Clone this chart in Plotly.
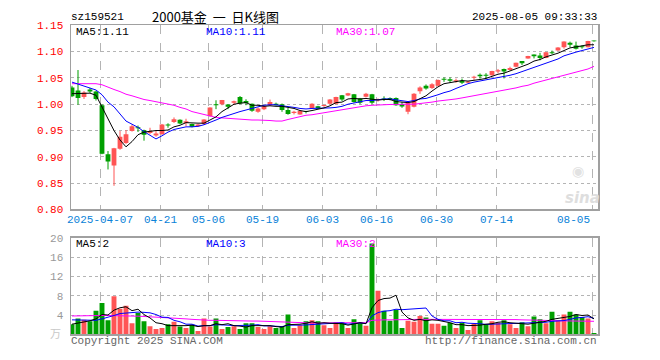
import plotly.graph_objects as go

# ---------------- data ----------------
dates = ["03-28", "03-31", "04-01", "04-02", "04-03", "04-07", "04-08", "04-09", "04-10", "04-11",
         "04-14", "04-15", "04-16", "04-17", "04-18", "04-21", "04-22", "04-23", "04-24", "04-25",
         "04-28", "04-29", "04-30", "05-06", "05-07", "05-08", "05-09", "05-12", "05-13", "05-14",
         "05-15", "05-16", "05-19", "05-20", "05-21", "05-22", "05-23", "05-26", "05-27", "05-28",
         "05-29", "05-30", "06-03", "06-04", "06-05", "06-06", "06-09", "06-10", "06-11", "06-12",
         "06-13", "06-16", "06-17", "06-18", "06-19", "06-20", "06-23", "06-24", "06-25", "06-26",
         "06-27", "06-30", "07-01", "07-02", "07-03", "07-04", "07-07", "07-08", "07-09", "07-10",
         "07-11", "07-14", "07-15", "07-16", "07-17", "07-18", "07-21", "07-22", "07-23", "07-24",
         "07-25", "07-28", "07-29", "07-30", "07-31", "08-01", "08-04", "08-05"]

open_ = [1.032, 1.026, 1.0135, 1.028, 1.024, 0.998, 0.905, 0.8835, 0.9155, 0.9265,
         0.9491, 0.956, 0.9503, 0.9454, 0.9405, 0.943, 0.9607, 0.9663, 0.9706, 0.9644,
         0.9626, 0.958, 0.9625, 0.9775, 0.9994, 1.000, 0.9994, 1.003, 1.0138, 1.006,
         1.001, 0.9856, 0.9906, 0.998, 1.001, 1.000, 0.989, 0.9831, 0.9806, 0.9856,
         0.992, 0.996, 0.9965, 1.001, 1.001, 1.017, 1.0167, 1.019, 1.011, 1.014,
         1.019, 1.0074, 1.0105, 1.0117, 1.0117, 1.000, 0.9858, 0.995, 1.0247, 1.035,
         1.031, 1.035, 1.0475, 1.0475, 1.043, 1.0445, 1.041, 1.0505, 1.056, 1.056,
         1.055, 1.062, 1.067, 1.065, 1.071, 1.082, 1.087, 1.0945, 1.0927, 1.088,
         1.099, 1.102, 1.1085, 1.117, 1.1116, 1.110, 1.1085, 1.1205]
high = [1.035, 1.065, 1.025, 1.031, 1.025, 1.000, 0.911, 0.917, 0.949, 0.951,
        0.9614, 0.9595, 0.9516, 0.9553, 0.9491, 0.9625, 0.9638, 0.9749, 0.9712, 0.9724,
        0.963, 0.9625, 0.9715, 0.994, 1.0075, 1.0081, 1.000, 1.0069, 1.0156, 1.0094,
        1.0013, 0.9938, 0.998, 1.0088, 1.003, 1.0013, 0.9931, 0.9875, 0.988, 0.9875,
        1.0019, 0.997, 0.999, 1.0098, 1.0142, 1.0176, 1.0216, 1.0195, 1.012, 1.0216,
        1.0197, 1.011, 1.015, 1.013, 1.013, 1.0043, 1.0035, 1.021, 1.034, 1.0376,
        1.040, 1.047, 1.051, 1.051, 1.0487, 1.0487, 1.044, 1.054, 1.0585, 1.059,
        1.0635, 1.067, 1.0677, 1.0713, 1.079, 1.082, 1.092, 1.0945, 1.0976, 1.099,
        1.102, 1.1085, 1.1195, 1.119, 1.119, 1.1116, 1.1205, 1.121]
low = [1.0135, 0.999, 1.010, 1.0215, 1.007, 0.905, 0.876, 0.845, 0.9135, 0.9245,
       0.948, 0.9473, 0.9307, 0.943, 0.9381, 0.942, 0.9553, 0.9644, 0.962, 0.9583,
       0.956, 0.957, 0.9606, 0.976, 0.9906, 0.998, 0.9906, 0.9988, 1.000, 0.9981,
       0.9856, 0.9838, 0.9888, 0.9969, 0.9975, 0.9856, 0.980, 0.9806, 0.980, 0.9825,
       0.991, 0.991, 0.995, 1.000, 1.000, 1.0062, 1.0155, 1.003, 1.000, 1.0129,
       1.000, 1.005, 1.006, 1.0074, 0.997, 0.9932, 0.981, 0.994, 1.0197, 1.0277,
       1.029, 1.034, 1.0425, 1.0413, 1.0408, 1.0384, 1.040, 1.0463, 1.0488, 1.0488,
       1.054, 1.059, 1.049, 1.064, 1.070, 1.0745, 1.0865, 1.087, 1.0835, 1.0875,
       1.0952, 1.1015, 1.1055, 1.108, 1.104, 1.1055, 1.108, 1.119]
close = [1.015, 1.012, 1.0225, 1.024, 1.010, 0.906, 0.891, 0.9165, 0.938, 0.943,
         0.9583, 0.9545, 0.9418, 0.9491, 0.9442, 0.9614, 0.9595, 0.9712, 0.9632, 0.9675,
         0.9571, 0.9615, 0.971, 0.9938, 0.9981, 1.008, 0.995, 1.0056, 1.0013, 1.0025,
         0.9875, 0.992, 0.996, 1.0044, 0.998, 0.989, 0.9813, 0.9856, 0.987, 0.985,
         1.001, 0.992, 0.9975, 1.009, 1.0136, 1.009, 1.021, 1.004, 1.003, 1.0197,
         1.003, 1.008, 1.009, 1.0086, 0.998, 0.9957, 1.003, 1.0197, 1.032, 1.030,
         1.038, 1.046, 1.0465, 1.0444, 1.0457, 1.041, 1.043, 1.052, 1.053, 1.054,
         1.063, 1.0646, 1.062, 1.069, 1.0787, 1.078, 1.0915, 1.091, 1.088, 1.0988,
         1.097, 1.108, 1.119, 1.113, 1.1055, 1.1085, 1.120, 1.1195]

ma5 = [1.020, 1.020, 1.020, 1.021, 1.017, 0.995, 0.971, 0.950, 0.932, 0.919,
       0.929, 0.942, 0.947, 0.949, 0.950, 0.950, 0.951, 0.957, 0.960, 0.965,
       0.964, 0.964, 0.964, 0.970, 0.976, 0.986, 0.993, 1.000, 1.002, 1.003,
       0.998, 0.998, 0.996, 0.997, 0.996, 0.996, 0.994, 0.992, 0.988, 0.986,
       0.988, 0.990, 0.993, 0.997, 1.003, 1.004, 1.010, 1.011, 1.010, 1.011,
       1.010, 1.008, 1.009, 1.009, 1.005, 1.004, 1.003, 1.005, 1.010, 1.016,
       1.025, 1.033, 1.039, 1.041, 1.044, 1.045, 1.044, 1.045, 1.047, 1.049,
       1.053, 1.057, 1.059, 1.063, 1.068, 1.071, 1.076, 1.082, 1.085, 1.090,
       1.093, 1.097, 1.102, 1.107, 1.109, 1.111, 1.113, 1.113]
ma10 = [1.042, 1.038, 1.035, 1.031, 1.027, 1.018, 1.004, 0.995, 0.982, 0.968,
        0.962, 0.956, 0.948, 0.941, 0.934, 0.940, 0.947, 0.952, 0.955, 0.957,
        0.957, 0.958, 0.961, 0.965, 0.970, 0.975, 0.979, 0.982, 0.986, 0.989,
        0.992, 0.996, 0.998, 0.999, 0.999, 0.997, 0.996, 0.994, 0.992, 0.991,
        0.992, 0.992, 0.992, 0.993, 0.994, 0.996, 1.000, 1.002, 1.004, 1.007,
        1.007, 1.009, 1.010, 1.010, 1.008, 1.007, 1.005, 1.007, 1.010, 1.011,
        1.014, 1.018, 1.022, 1.025, 1.030, 1.035, 1.039, 1.042, 1.044, 1.046,
        1.049, 1.051, 1.052, 1.055, 1.058, 1.062, 1.067, 1.071, 1.074, 1.079,
        1.082, 1.086, 1.092, 1.096, 1.099, 1.102, 1.105, 1.108]
ma30 = [1.039, 1.039, 1.039, 1.039, 1.039, 1.037, 1.032, 1.028, 1.024, 1.019,
        1.016, 1.012, 1.009, 1.007, 1.005, 1.003, 1.001, 0.998, 0.994, 0.991,
        0.986, 0.983, 0.980, 0.977, 0.975, 0.974, 0.973, 0.972, 0.971, 0.970,
        0.970, 0.970, 0.970, 0.969, 0.968, 0.968, 0.971, 0.974, 0.977, 0.979,
        0.980, 0.982, 0.984, 0.986, 0.988, 0.990, 0.992, 0.994, 0.996, 0.997,
        0.998, 0.999, 0.999, 0.9995, 1.000, 1.000, 1.000, 1.000, 1.001, 1.002,
        1.004, 1.006, 1.007, 1.009, 1.010, 1.012, 1.014, 1.016, 1.018, 1.020,
        1.022, 1.024, 1.027, 1.029, 1.031, 1.034, 1.036, 1.040, 1.043, 1.045,
        1.048, 1.051, 1.055, 1.058, 1.061, 1.064, 1.067, 1.072]

volume = [2.1, 3.3, 3.0, 2.7, 4.9, 6.5, 2.9, 7.9, 5.3, 5.9,
          2.3, 4.4, 2.7, 1.7, 1.1, 1.3, 2.1, 2.6, 1.6, 1.3,
          2.0, 0.7, 3.3, 1.6, 3.3, 1.1, 1.5, 1.7, 1.1, 2.3,
          2.3, 1.5, 1.1, 1.7, 1.3, 1.7, 4.1, 1.3, 1.9, 2.7,
          2.9, 2.7, 1.9, 1.3, 2.5, 2.5, 1.3, 3.1, 2.5, 1.8,
          18.8, 9.0, 4.9, 2.8, 5.1, 1.3, 2.8, 2.6, 3.8, 3.5,
          2.2, 2.2, 1.8, 2.4, 1.3, 2.4, 0.9, 2.2, 2.9, 2.1,
          2.7, 2.4, 2.9, 2.1, 1.3, 2.5, 1.7, 3.7, 3.1, 2.3,
          4.7, 2.9, 4.1, 4.7, 4.1, 3.6, 3.3, 0.3]
vma5 = [2.1, 2.3, 2.5, 2.8, 3.2, 4.1, 4.0, 5.0, 5.5, 5.7,
        4.9, 5.2, 4.1, 3.4, 2.4, 2.2, 1.8, 1.8, 1.7, 1.8,
        1.9, 1.6, 1.8, 1.8, 2.2, 2.0, 2.2, 1.8, 1.7, 1.5,
        1.8, 1.8, 1.7, 1.8, 1.6, 1.5, 2.0, 2.0, 2.1, 2.3,
        2.6, 2.3, 2.4, 2.3, 2.3, 2.2, 1.9, 2.1, 2.4, 2.2,
        5.5, 7.0, 7.4, 7.5, 8.1, 4.6, 3.4, 2.9, 3.1, 2.8,
        3.0, 2.9, 2.7, 2.4, 2.0, 2.0, 1.8, 1.8, 1.9, 2.1,
        2.2, 2.5, 2.6, 2.4, 2.3, 2.2, 2.1, 2.3, 2.5, 2.7,
        3.1, 3.3, 3.4, 3.7, 4.1, 3.9, 4.0, 3.2]
vma10 = [3.0, 3.0, 3.0, 3.0, 2.9, 3.2, 3.5, 3.9, 4.3, 4.45,
         4.5, 4.6, 4.55, 4.45, 4.1, 3.55, 3.5, 2.9, 2.6, 2.1,
         2.1, 1.7, 1.8, 1.8, 2.0, 2.0, 1.9, 1.8, 1.8, 1.9,
         1.9, 2.0, 1.75, 1.75, 1.6, 1.6, 1.9, 1.85, 1.9, 1.95,
         2.0, 2.15, 2.2, 2.2, 2.3, 2.4, 2.1, 2.3, 2.35, 2.25,
         3.8, 4.5, 4.8, 4.9, 5.2, 5.1, 5.2, 5.15, 5.3, 5.45,
         3.8, 3.1, 2.8, 2.8, 2.4, 2.5, 2.3, 2.3, 2.2, 2.05,
         2.1, 2.1, 2.2, 2.2, 2.2, 2.2, 2.3, 2.45, 2.45, 2.5,
         2.7, 2.7, 2.85, 3.1, 3.4, 3.5, 3.65, 3.3]
vma30 = [3.8, 3.85, 3.9, 3.9, 3.9, 3.9, 3.9, 3.9, 3.9, 3.85,
         3.8, 3.75, 3.7, 3.65, 3.6, 3.55, 3.5, 3.4, 3.3, 3.2,
         3.1, 3.0, 2.95, 2.9, 2.9, 2.85, 2.85, 2.8, 2.8, 2.8,
         2.75, 2.75, 2.7, 2.7, 2.6, 2.5, 2.45, 2.4, 2.4, 2.35,
         2.35, 2.3, 2.35, 2.4, 2.4, 2.4, 2.4, 2.4, 2.4, 2.4,
         2.9, 3.0, 3.0, 3.0, 3.05, 3.05, 3.05, 3.05, 3.1, 3.1,
         3.1, 3.15, 3.15, 3.15, 3.2, 3.2, 3.2, 3.2, 3.15, 3.15,
         3.1, 3.1, 3.1, 3.05, 3.05, 3.0, 3.0, 3.0, 2.95, 2.9,
         2.85, 2.8, 2.8, 2.8, 2.75, 2.75, 2.7, 2.7]

tick_dates = ["04-07", "04-21", "05-06", "05-19", "06-03", "06-16", "06-30", "07-14", "08-05"]
tick_labels = ["2025-04-07", "04-21", "05-06", "05-19", "06-03", "06-16", "06-30", "07-14", "08-05"]
price_ticks = [0.80, 0.85, 0.90, 0.95, 1.00, 1.05, 1.10, 1.15]
vol_ticks = [4, 8, 12, 16, 20]

# ---------------- styles ----------------
W, H = 660, 360
RED = "#ff5555"
GREEN = "#009f00"
MONO = "Liberation Mono, DejaVu Sans Mono, monospace"
CJK = "Noto Sans CJK SC"
X0, X1 = 71, 598          # plot left / right (px)
PY0, PY1 = 21, 211.5      # price panel top / bottom (px)
VY0, VY1 = 240.7, 340.7   # volume panel top / bottom (px)

n = len(dates)
idx = list(range(n))
up = [c >= o for o, c in zip(open_, close)]
colors = [RED if u else GREEN for u in up]
grid_x = [dates.index(d) - 0.3 for d in tick_dates]

def px(x):
    return x / W

def py(y):
    return 1 - y / H

fig = go.Figure()

# wicks
for want, col in ((True, RED), (False, GREEN)):
    xs, ys = [], []
    for i in idx:
        if up[i] == want:
            xs += [i, i, None]
            ys += [low[i], high[i], None]
    fig.add_trace(go.Scatter(x=xs, y=ys, mode="lines", line=dict(color=col, width=1),
                             xaxis="x", yaxis="y", hoverinfo="skip"))

# bodies
body_base = [min(o, c) for o, c in zip(open_, close)]
body_h = [max(abs(c - o), 0.0018) for o, c in zip(open_, close)]
fig.add_trace(go.Bar(x=idx, y=body_h, base=body_base, width=0.8, marker=dict(color=colors, line=dict(width=0)),
                     xaxis="x", yaxis="y"))

# price MAs
for arr, col in ((ma30, "#ff00ff"), (ma10, "#0000ff"), (ma5, "#000000")):
    fig.add_trace(go.Scatter(x=idx, y=arr, mode="lines", line=dict(color=col, width=1),
                             xaxis="x", yaxis="y", hoverinfo="skip"))

# volume
fig.add_trace(go.Bar(x=idx, y=volume, width=0.82, marker=dict(color=colors, line=dict(width=0)),
                     xaxis="x2", yaxis="y2"))
for arr, col in ((vma30, "#ff00ff"), (vma10, "#0000ff"), (vma5, "#000000")):
    fig.add_trace(go.Scatter(x=idx, y=arr, mode="lines", line=dict(color=col, width=1),
                             xaxis="x2", yaxis="y2", hoverinfo="skip"))

xr = [(X0 - 72) / 6, (X1 - 72) / 6]
common_x = dict(range=xr, domain=[px(X0), px(X1)], showticklabels=False, tickvals=grid_x,
                showgrid=True, gridcolor="#b4b4b4", griddash="dash", gridwidth=1,
                zeroline=False, showline=True, mirror=True, linecolor="#a0a0a0", linewidth=1.5,
                ticks="", fixedrange=True)

fig.update_layout(
    width=W, height=H, margin=dict(l=0, r=0, t=0, b=0),
    paper_bgcolor="white", plot_bgcolor="white", showlegend=False, barmode="overlay",
    xaxis=dict(anchor="y", **common_x),
    xaxis2=dict(anchor="y2", **common_x),
    yaxis=dict(domain=[py(PY1), py(PY0)], range=[0.80, 1.15], tickvals=price_ticks,
               ticktext=["%.2f" % v for v in price_ticks],
               tickfont=dict(family=MONO, size=11, color="#ff0000"),
               showgrid=True, gridcolor="#b4b4b4", griddash="dot", gridwidth=1,
               zeroline=False, showline=True, mirror=True, linecolor="#a0a0a0", linewidth=1.5,
               ticks="", ticklabelstandoff=4, fixedrange=True),
    yaxis2=dict(domain=[py(VY1), py(VY0)], range=[0, 20], tickvals=vol_ticks,
                ticktext=[str(v) for v in vol_ticks],
                tickfont=dict(family=MONO, size=11, color="#999999"),
                showgrid=True, gridcolor="#b4b4b4", griddash="dot", gridwidth=1,
                zeroline=False, showline=True, mirror=True, linecolor="#a0a0a0", linewidth=1.5,
                ticks="", ticklabelstandoff=4, fixedrange=True),
)

ann = []

def text(x, y, s, color="#000", size=11, family=MONO, anchor="left", **kw):
    ann.append(dict(x=px(x), y=py(y), xref="paper", yref="paper", text=s, showarrow=False,
                    xanchor=anchor, yanchor="middle", font=dict(family=family, size=size, color=color), **kw))

text(69, 12, "sz159521", size=11)
text(150, 12, "2000基金&nbsp;&nbsp;一&nbsp;&nbsp;日K线图", size=13, family=CJK)
text(599, 12, "2025-08-05 09:33:33", size=11, anchor="right")
text(74, 28, "MA5:%.2f" % 1.11, size=11)
text(204, 28, "MA10:%.2f" % 1.11, size=11, color="#0000ff")
text(334, 28, "MA30:%.2f" % 1.07, size=11, color="#ff00ff")
text(74, 247, "MA5:2", size=11)
text(204, 247, "MA10:3", size=11, color="#0000ff")
text(334, 247, "MA30:2", size=11, color="#ff00ff")
text(69, 348, "Copyright 2025 SINA.COM", size=11, color="#666666")
text(599, 348, "http://finance.sina.com.cn", size=11, color="#666666", anchor="right")
text(63, 339, "万", size=11, family=CJK, color="#c8c8c8", anchor="right")
text(582, 200, "<i><b>sina</b></i>", size=15, family="DejaVu Sans", color="#dedede", anchor="center")
text(578, 172, "◉", size=14, family="DejaVu Sans", color="#e2e2e2", anchor="center")

for d, lab in zip(tick_dates, tick_labels):
    gx = X0 + (dates.index(d) - 0.3 - xr[0]) * 6
    last = d == tick_dates[-1]
    text(gx, 222, lab, size=11, color="#0a82d8", anchor="right" if last else "center")

fig.update_layout(annotations=ann)
fig.write_html("out.html", config={"displayModeBar": False, "staticPlot": True},
               post_script="document.body.style.margin='0';document.body.style.overflow='hidden';")
